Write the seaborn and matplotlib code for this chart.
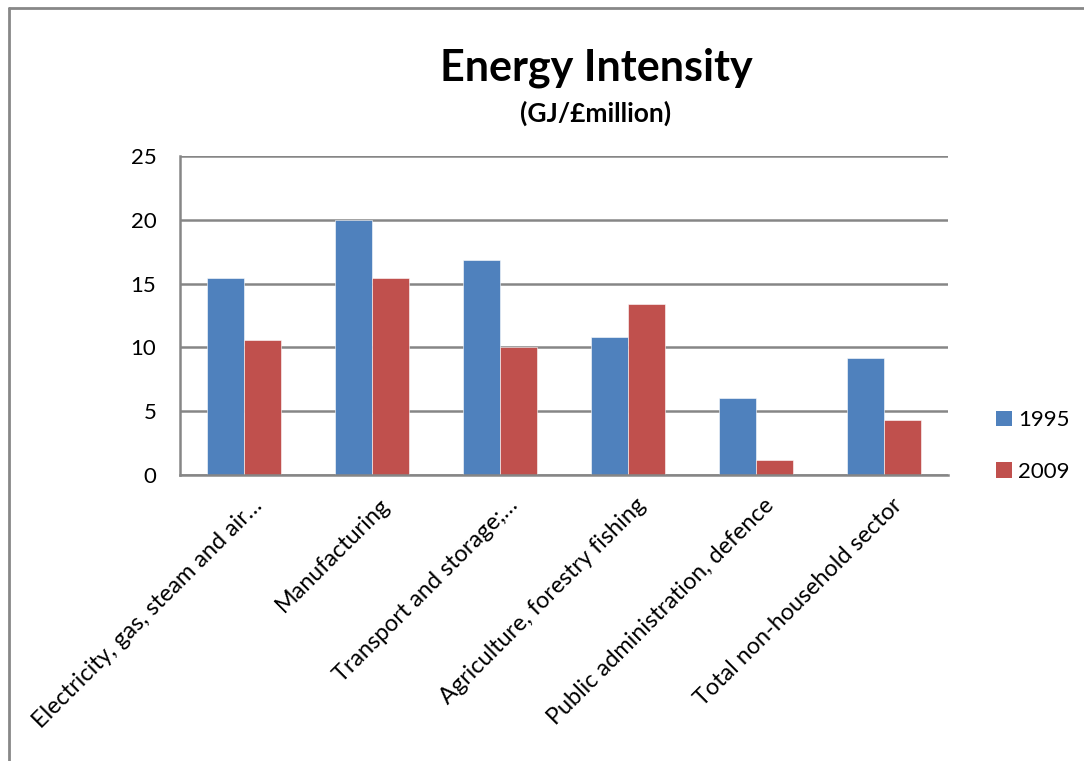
import pandas as pd
import matplotlib.pyplot as plt
import matplotlib.transforms as mtransforms
import seaborn as sns
from matplotlib.lines import Line2D
from matplotlib.patches import Patch

sectors = [
    'Electricity, gas, steam and air…',
    'Manufacturing',
    'Transport and storage;…',
    'Agriculture, forestry fishing',
    'Public administration, defence',
    'Total non-household sector',
]
years = ['1995', '2009']
values_1995 = [15.4, 20.0, 16.85, 10.85, 6.05, 9.15]
values_2009 = [10.6, 15.45, 10.0, 13.4, 1.2, 4.3]
colors = {'1995': '#4F81BD', '2009': '#C0504D'}

df = pd.DataFrame({
    'sector': sectors * 2,
    'year': [years[0]] * len(sectors) + [years[1]] * len(sectors),
    'value': values_1995 + values_2009,
})

sns.set_style('white')
plt.rcParams['font.family'] = ['Lato', 'DejaVu Sans']
plt.rcParams['text.color'] = 'black'
plt.rcParams['xtick.color'] = 'black'
plt.rcParams['ytick.color'] = 'black'

fig = plt.figure(figsize=(10.84, 7.61), dpi=100)
ax = fig.add_axes([180 / 1084, 1 - 475 / 761, 768 / 1084, 319 / 761])

sns.barplot(data=df, x='sector', y='value', hue='year', palette=colors,
            width=0.58, saturation=1, edgecolor='white', linewidth=0.4,
            legend=False, ax=ax)

ax.set_ylim(0, 25)
ax.set_yticks(range(0, 26, 5))
ax.set_xlim(-0.5, len(sectors) - 0.5)
ax.yaxis.grid(True, color='#868686', linewidth=1.8)
ax.set_axisbelow(True)
for side in ['top', 'right']:
    ax.spines[side].set_visible(False)
for side in ['left', 'bottom']:
    ax.spines[side].set_color('#868686')
    ax.spines[side].set_linewidth(1.8)
ax.set_xlabel('')
ax.set_ylabel('')
ax.tick_params(axis='y', length=0, pad=17, labelsize=16)
ax.tick_params(axis='x', length=0, pad=14, labelsize=16.8)
shift = mtransforms.ScaledTranslation(5 / 72, 0, fig.dpi_scale_trans)
for lbl in ax.get_xticklabels():
    lbl.set_rotation(45)
    lbl.set_ha('right')
    lbl.set_rotation_mode('anchor')
    lbl.set_transform(lbl.get_transform() + shift)

fig.text(596 / 1084, 1 - 68 / 761, 'Energy Intensity', ha='center', va='center',
         fontsize=31, fontweight='bold')
fig.text(596 / 1084, 1 - 113 / 761, '(GJ/£million)', ha='center', va='center',
         fontsize=19, fontweight='bold')

handles = [Patch(facecolor=colors[y], edgecolor='none') for y in years]
fig.legend(handles, years, loc='center left', bbox_to_anchor=(976 / 1084, 1 - 446 / 761),
           frameon=False, fontsize=16, handlelength=0.7, handleheight=0.7,
           handletextpad=0.3, labelspacing=1.4)

# outer chart border (left and top edges visible)
fig.add_artist(Line2D([9 / 1084, 9 / 1084], [0, 1 - 8 / 761], color='#888888', linewidth=2,
                      transform=fig.transFigure))
fig.add_artist(Line2D([9 / 1084, 1], [1 - 8 / 761, 1 - 8 / 761], color='#888888', linewidth=2,
                      transform=fig.transFigure))

fig.savefig('out.png', dpi=100)
